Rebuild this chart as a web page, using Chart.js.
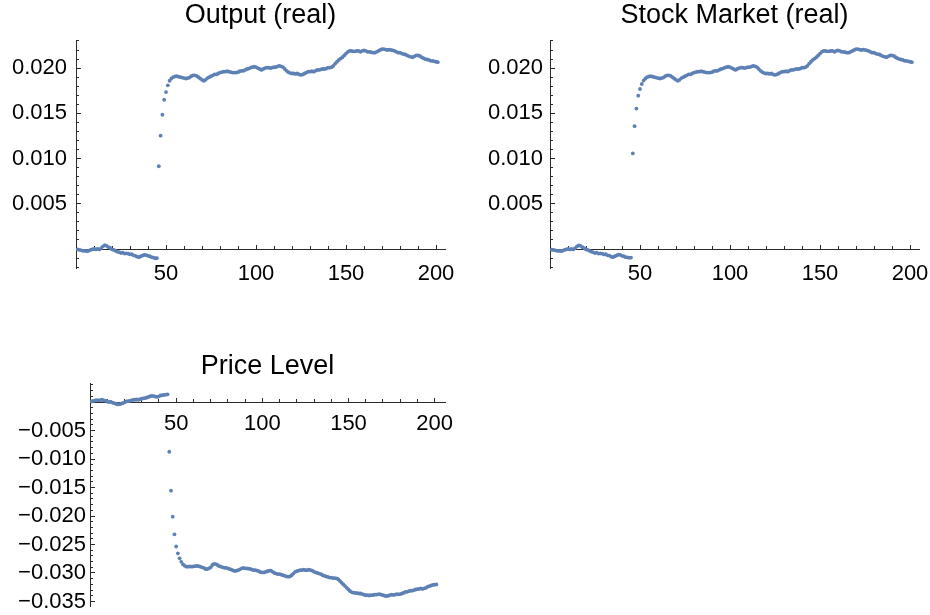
<!DOCTYPE html>
<html>
<head>
<meta charset="utf-8">
<script src="https://cdn.jsdelivr.net/npm/chart.js@4.4.1/dist/chart.umd.min.js"></script>
<style>
  html, body { margin: 0; padding: 0; background: #fff; }
  body { width: 930px; height: 615px; position: relative; overflow: hidden; }
  canvas { position: absolute; }
  #c1 { left: 0; top: 0; }
  #c2 { left: 474px; top: 0; }
  #c3 { left: 0; top: 348px; }
</style>
</head>
<body>
<canvas id="c1" width="465" height="300"></canvas>
<canvas id="c2" width="456" height="300"></canvas>
<canvas id="c3" width="465" height="267"></canvas>
<script>
// Impulse responses over 201 periods (shock hits in period 46).
const outputReal = [
  -0.00005, -0.0001, -0.00015, -0.0002, -0.0002, -0.00025, -0.0002, -0.0001, -0.00005, 0.0,
  -0.00005, 0.00002, -0.00005, 0.0001, 0.0003, 0.00042, 0.00035, 0.0002, 0.00012, -0.00005,
  -0.0001, -0.0002, -0.0003, -0.00035, -0.00045, -0.0004, -0.0005, -0.00048, -0.00052, -0.0006,
  -0.00058, -0.0007, -0.00075, -0.00085, -0.0009, -0.0008, -0.00072, -0.00065, -0.00068, -0.00075,
  -0.0008, -0.0009, -0.00095, -0.00102, -0.001,
  0.00915, 0.01253, 0.01484, 0.0165, 0.01735,
  0.0181, 0.0186, 0.01885, 0.019, 0.01908, 0.0191, 0.01905, 0.019, 0.01895, 0.0189,
  0.01885, 0.0189, 0.01895, 0.0191, 0.0192, 0.0192, 0.01915, 0.019, 0.01885, 0.0187,
  0.0186, 0.0187, 0.0189, 0.019, 0.0191, 0.0192, 0.0193, 0.0193, 0.0194, 0.0195,
  0.01955, 0.0196, 0.0196, 0.01965, 0.0196, 0.01955, 0.0195, 0.0195, 0.0195, 0.01955,
  0.01965, 0.0197, 0.0197, 0.0198, 0.0199, 0.01995, 0.02005, 0.0201, 0.02015, 0.0201,
  0.02, 0.0199, 0.0198, 0.0199, 0.02, 0.02005, 0.02005, 0.02, 0.02005, 0.0201,
  0.0201, 0.0202, 0.02025, 0.0202, 0.0201, 0.0199, 0.0197, 0.01955, 0.01945, 0.0194,
  0.0194, 0.01935, 0.0194, 0.0193, 0.01925, 0.0193, 0.0194, 0.0195, 0.0196, 0.0196,
  0.01965, 0.0196, 0.0197, 0.0198, 0.0198, 0.01985, 0.0199, 0.0199, 0.01995, 0.02005,
  0.02005, 0.0201, 0.02025, 0.0205, 0.0207, 0.0209, 0.02105, 0.0212, 0.0214, 0.0216,
  0.0218, 0.0219, 0.0219, 0.02185, 0.02185, 0.0219, 0.0219, 0.0218, 0.0219, 0.02195,
  0.0219, 0.0218, 0.0218, 0.02175, 0.0217, 0.0217, 0.0218, 0.0219, 0.022, 0.0221,
  0.0221, 0.02205, 0.022, 0.02205, 0.022, 0.02195, 0.0219, 0.0218, 0.0217, 0.0217,
  0.0216, 0.02155, 0.0215, 0.0214, 0.0213, 0.02125, 0.0212, 0.0213, 0.0214, 0.0214,
  0.02135, 0.0212, 0.0211, 0.021, 0.02095, 0.0209, 0.0208, 0.0208, 0.02075, 0.0207,
  0.02065
];

const stockMarketReal = [
  -0.00008, -0.0001, -0.00015, -0.0002, -0.0002, -0.00022, -0.0002, -0.0001, -0.00005, 0.0,
  -0.00005, 0.0, -0.00005, 0.0001, 0.0003, 0.0004, 0.00035, 0.0002, 0.0001, -0.00005,
  -0.0001, -0.0002, -0.0003, -0.00037, -0.00045, -0.0004, -0.0005, -0.00048, -0.00052, -0.0006,
  -0.00058, -0.0007, -0.00073, -0.00085, -0.0009, -0.0008, -0.00072, -0.00062, -0.00065, -0.00075,
  -0.0008, -0.0009, -0.00092, -0.00098, -0.00095,
  0.01057, 0.01358, 0.01552, 0.01695, 0.01769,
  0.01824, 0.01862, 0.01885, 0.019, 0.01908, 0.0191, 0.01905, 0.019, 0.01895, 0.0189,
  0.01885, 0.0189, 0.01895, 0.0191, 0.0192, 0.0192, 0.01915, 0.019, 0.01885, 0.0187,
  0.0186, 0.0187, 0.0189, 0.019, 0.0191, 0.0192, 0.0193, 0.0193, 0.0194, 0.0195,
  0.01955, 0.0196, 0.0196, 0.01965, 0.0196, 0.01955, 0.0195, 0.0195, 0.0195, 0.01955,
  0.01965, 0.0197, 0.0197, 0.0198, 0.0199, 0.01995, 0.02005, 0.0201, 0.02015, 0.0201,
  0.02, 0.0199, 0.0198, 0.0199, 0.02, 0.02005, 0.02005, 0.02, 0.02005, 0.0201,
  0.0201, 0.0202, 0.02025, 0.0202, 0.0201, 0.0199, 0.0197, 0.01955, 0.01945, 0.0194,
  0.0194, 0.01935, 0.0194, 0.0193, 0.01925, 0.0193, 0.0194, 0.0195, 0.0196, 0.0196,
  0.01965, 0.0196, 0.0197, 0.0198, 0.0198, 0.01985, 0.0199, 0.0199, 0.01995, 0.02005,
  0.02005, 0.0201, 0.02025, 0.0205, 0.0207, 0.0209, 0.02105, 0.0212, 0.0214, 0.0216,
  0.0218, 0.0219, 0.0219, 0.02185, 0.02185, 0.0219, 0.0219, 0.0218, 0.0219, 0.02195,
  0.0219, 0.0218, 0.0218, 0.02175, 0.0217, 0.0217, 0.0218, 0.0219, 0.022, 0.0221,
  0.0221, 0.02205, 0.022, 0.02205, 0.022, 0.02195, 0.0219, 0.0218, 0.0217, 0.0217,
  0.0216, 0.02155, 0.0215, 0.0214, 0.0213, 0.02125, 0.0212, 0.0213, 0.0214, 0.0214,
  0.02135, 0.0212, 0.0211, 0.021, 0.02095, 0.0209, 0.0208, 0.0208, 0.02075, 0.0207,
  0.02065
];

const priceLevel = [
  0.0001, 0.0002, 0.0003, 0.00035, 0.0003, 0.00035, 0.0004, 0.0003, 0.00025, 0.0001,
  0.0, 0.00005, -0.0001, -0.0002, -0.0003, -0.00042, -0.0004, -0.0003, -0.0002, -0.00005,
  0.0001, 0.00015, 0.0002, 0.0003, 0.00038, 0.0004, 0.00045, 0.0004, 0.0005, 0.0006,
  0.00065, 0.0007, 0.0008, 0.0009, 0.00105, 0.0011, 0.00105, 0.00095, 0.0009, 0.001,
  0.00115, 0.0012, 0.00125, 0.0013, 0.00135,
  -0.00872, -0.01556, -0.02012, -0.02322, -0.02535,
  -0.02655, -0.02743, -0.02805, -0.0285, -0.02875, -0.0289, -0.0289, -0.02885, -0.0289, -0.02885,
  -0.0288, -0.02875, -0.0288, -0.0289, -0.029, -0.0291, -0.0293, -0.0293, -0.0292, -0.029,
  -0.0286, -0.0284, -0.02845, -0.0286, -0.0288, -0.0289, -0.029, -0.0291, -0.0291, -0.0292,
  -0.0293, -0.0294, -0.02955, -0.02965, -0.0296, -0.0295, -0.02935, -0.0292, -0.0291, -0.0292,
  -0.0292, -0.02925, -0.0293, -0.0294, -0.0295, -0.0295, -0.0296, -0.0297, -0.02985, -0.0299,
  -0.0299, -0.0298, -0.0297, -0.0296, -0.0296, -0.0298, -0.03, -0.0301, -0.0302, -0.0302,
  -0.0303, -0.0304, -0.0305, -0.0306, -0.03065, -0.0306, -0.0304, -0.0301, -0.0298, -0.0297,
  -0.0296, -0.0295, -0.0295, -0.0294, -0.0295, -0.0295, -0.0294, -0.0295, -0.0296, -0.0298,
  -0.0299, -0.03, -0.0301, -0.0302, -0.0304, -0.0305, -0.0306, -0.0307, -0.0308, -0.0308,
  -0.0309, -0.0309, -0.03095, -0.0311, -0.0314, -0.0317, -0.032, -0.0323, -0.0326, -0.0329,
  -0.0332, -0.0334, -0.03345, -0.0335, -0.03355, -0.0336, -0.0336, -0.0337, -0.0338, -0.0339,
  -0.0339, -0.03395, -0.0339, -0.0339, -0.0338, -0.0338, -0.03375, -0.0337, -0.0338, -0.0339,
  -0.034, -0.03405, -0.034, -0.0339, -0.0338, -0.03385, -0.0338, -0.0337, -0.03375, -0.0337,
  -0.0336, -0.0335, -0.0333, -0.0333, -0.0332, -0.0331, -0.0331, -0.033, -0.0329, -0.03285,
  -0.0328, -0.0327, -0.0328, -0.0327, -0.0326, -0.0324, -0.0323, -0.0322, -0.0321, -0.03205,
  -0.032
];

// Tick positions
const xMajorTicks = [50, 100, 150, 200];
const xMinorTicks = [10, 20, 30, 40, 60, 70, 80, 90, 110, 120, 130, 140, 160, 170, 180, 190];
const yMajorPositive = [0.005, 0.010, 0.015, 0.020];
const yMinorPositive = [-0.002, -0.001, 0.001, 0.002, 0.003, 0.004, 0.006, 0.007, 0.008, 0.009,
  0.011, 0.012, 0.013, 0.014, 0.016, 0.017, 0.018, 0.019, 0.021, 0.022, 0.023];
const yMajorNegative = [-0.005, -0.010, -0.015, -0.020, -0.025, -0.030, -0.035];
const yMinorNegative = [0.003, 0.002, 0.001, -0.001, -0.002, -0.003, -0.004, -0.006, -0.007, -0.008, -0.009,
  -0.011, -0.012, -0.013, -0.014, -0.016, -0.017, -0.018, -0.019, -0.021, -0.022, -0.023, -0.024,
  -0.026, -0.027, -0.028, -0.029, -0.031, -0.032, -0.033, -0.034];

const FONT = "'Liberation Sans', Arial, Helvetica, sans-serif";
const POINT_COLOR = '#5e81b5';
const AXIS_COLOR = '#2b2b2b';

const fmtTick = v => (v < 0 ? '\u2212' : '') + Math.abs(v).toFixed(3);
const setTicks = list => scale => { scale.ticks = list.map(v => ({ value: v })); };
const zeroPad = scale => {
  scale.paddingTop = 0; scale.paddingBottom = 0;
  scale.paddingLeft = 0; scale.paddingRight = 0;
};

function buildPanel(canvasId, cfg) {
  const tickFont = { family: FONT, size: 22, lineHeight: 1.2 };
  return new Chart(document.getElementById(canvasId), {
    type: 'scatter',
    data: {
      datasets: [{
        data: cfg.values.map((v, i) => ({ x: i + 1, y: v })),
        pointRadius: 1.9,
        pointHoverRadius: 1.9,
        pointBackgroundColor: POINT_COLOR,
        pointBorderWidth: 0,
        showLine: false
      }]
    },
    options: {
      responsive: false,
      animation: false,
      events: [],
      layout: { padding: { left: 0, top: 0, right: cfg.padRight, bottom: cfg.padBottom } },
      plugins: {
        legend: { display: false },
        tooltip: { enabled: false },
        title: {
          display: true,
          text: cfg.title,
          fullSize: false,
          color: '#000',
          font: { family: FONT, size: 27, weight: 'normal', lineHeight: 1.15 },
          padding: { top: cfg.titleTop, bottom: cfg.titleBottom }
        }
      },
      scales: {
        x: {
          type: 'linear',
          position: { y: 0 },
          min: 0, max: cfg.xMax,
          border: { display: true, color: AXIS_COLOR, width: 1 },
          grid: { drawOnChartArea: false, drawTicks: true, tickLength: -5, tickColor: AXIS_COLOR, tickWidth: 1 },
          ticks: { autoSkip: false, maxRotation: 0, padding: cfg.xLabelPad, color: '#000', font: tickFont,
                   callback: v => String(v) },
          afterBuildTicks: setTicks(xMajorTicks),
          afterFit: zeroPad
        },
        xMinor: {
          type: 'linear', axis: 'x',
          position: { y: 0 },
          min: 0, max: cfg.xMax,
          border: { display: false },
          grid: { drawOnChartArea: false, drawTicks: true, tickLength: -3, tickColor: AXIS_COLOR, tickWidth: 1 },
          ticks: { display: false },
          afterBuildTicks: setTicks(xMinorTicks),
          afterFit: zeroPad
        },
        y: {
          type: 'linear',
          position: 'left',
          min: cfg.yMin, max: cfg.yMax,
          border: { display: true, color: AXIS_COLOR, width: 1 },
          grid: { drawOnChartArea: false, drawTicks: true, tickLength: -5, tickColor: AXIS_COLOR, tickWidth: 1 },
          ticks: { autoSkip: false, padding: cfg.yLabelPad, color: '#000', font: tickFont,
                   callback: v => fmtTick(v) },
          afterBuildTicks: setTicks(cfg.yMajor),
          afterFit: s => { zeroPad(s); s.width = cfg.axisLeft; }
        },
        yMinor: {
          type: 'linear', axis: 'y',
          position: { x: 0 },
          min: cfg.yMin, max: cfg.yMax,
          border: { display: false },
          grid: { drawOnChartArea: false, drawTicks: true, tickLength: -3, tickColor: AXIS_COLOR, tickWidth: 1 },
          ticks: { display: false },
          afterBuildTicks: setTicks(cfg.yMinor),
          afterFit: zeroPad
        }
      }
    }
  });
}

buildPanel('c1', {
  title: 'Output (real)', values: outputReal,
  xMax: 205, yMin: -0.0021, yMax: 0.0231,
  yMajor: yMajorPositive, yMinor: yMinorPositive,
  axisLeft: 76, padRight: 20, padBottom: 32,
  titleTop: 0, titleBottom: 9, xLabelPad: 17, yLabelPad: 14
});

buildPanel('c2', {
  title: 'Stock Market (real)', values: stockMarketReal,
  xMax: 205, yMin: -0.0021, yMax: 0.0231,
  yMajor: yMajorPositive, yMinor: yMinorPositive,
  axisLeft: 76, padRight: 11, padBottom: 32,
  titleTop: 0, titleBottom: 9, xLabelPad: 17, yLabelPad: 12
});

buildPanel('c3', {
  title: 'Price Level', values: priceLevel,
  xMax: 206, yMin: -0.0359, yMax: 0.0033,
  yMajor: yMajorNegative, yMinor: yMinorNegative,
  axisLeft: 90, padRight: 20, padBottom: 8.4,
  titleTop: 3.2, titleBottom: 1, xLabelPad: 14, yLabelPad: 9
});
</script>
</body>
</html>
